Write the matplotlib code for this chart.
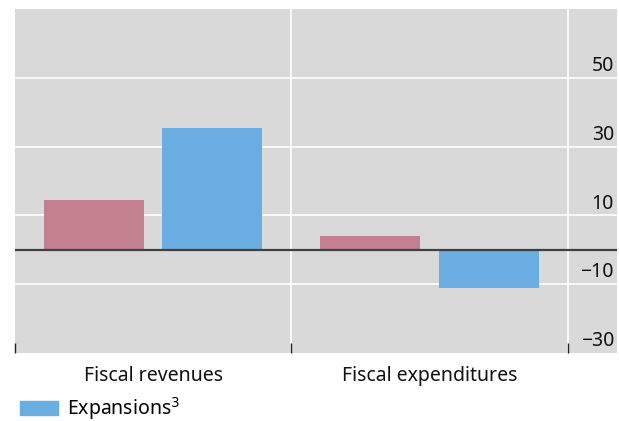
import matplotlib
matplotlib.use("Agg")
import matplotlib.pyplot as plt
from matplotlib.patches import Patch

categories = ["Fiscal revenues", "Fiscal expenditures"]
recessions = [14.6, 3.9]
expansions = [35.3, -11.2]
tick_values = [50, 30, 10, -10, -30]
tick_labels = ["50", "30", "10", "\u221210", "\u221230"]

RED = "#C3808F"
BLUE = "#6AADE1"
BG = "#D9D9D9"

plt.rcParams['font.family'] = ['Noto Sans', 'DejaVu Sans']

fig = plt.figure(figsize=(6.19, 4.21), dpi=100)
ax = fig.add_axes([15/619, 1 - 353/421, 602/619, 344/421])
ax.set_facecolor(BG)

xs = list(range(len(categories)))
w = 0.362
off = 0.214
ax.bar([x - off for x in xs], recessions, width=w, color=RED, zorder=3)
ax.bar([x + off for x in xs], expansions, width=w, color=BLUE, zorder=3)

ax.set_xlim(-0.5, 1.678)
ax.set_ylim(-30, 70)

for v in [50, 30, 10, -10]:
    ax.axhline(v, color="white", lw=1.2, zorder=1)
for xb in [0.5, 1.5]:
    ax.axvline(xb, color="white", lw=1.2, zorder=1)
ax.axhline(0, color="#404040", lw=1.6, zorder=4)

for s in ax.spines.values():
    s.set_visible(False)
ax.set_yticks([])
ax.set_xticks([-0.5, 0.5, 1.5])
ax.set_xticklabels([])
ax.tick_params(axis="x", direction="in", length=7, width=1, color="#222222")

for v, lab in zip(tick_values, tick_labels):
    ax.text(1.667, v + 0.5, lab, ha="right", va="bottom", fontsize=14, color="#111111", zorder=5)

for x, c in zip(xs, categories):
    ax.text(x, -36.7, c, ha="center", va="center", fontsize=14, color="#111111", clip_on=False)

fig.legend(handles=[Patch(color=BLUE, label="Expansions$^3$")], loc="center left",
           bbox_to_anchor=(20/619, 1 - 408.5/421), frameon=False, fontsize=14,
           handlelength=1.95, handleheight=0.8, handletextpad=0.45, borderaxespad=0, borderpad=0)

fig.savefig("out.png", dpi=100)
